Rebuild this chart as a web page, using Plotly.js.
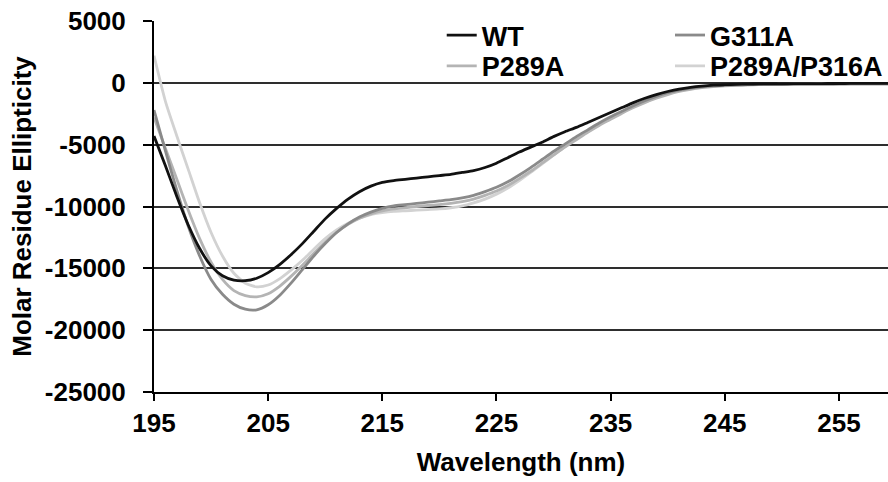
<!DOCTYPE html>
<html>
<head>
<meta charset="utf-8">
<script src="https://cdn.plot.ly/plotly-3.0.1.min.js"></script>
<style>html,body{margin:0;padding:0;background:#fff;}#chart{width:888px;height:482px;}</style>
</head>
<body>
<div id="chart"></div>
<script>
const wavelength = [195,196,197,198,199,200,201,202,203,204,205,206,207,208,209,210,211,212,213,214,215,216,217,218,219,220,221,222,223,224,225,226,227,228,229,230,231,232,233,234,235,236,237,238,239,240,241,242,243,244,245,246,247,248,249,250,251,252,253,254,255,256,257,258,259,260];

const wt = [-4300,-6700,-9200,-11500,-13400,-14800,-15600,-15950,-16000,-15800,-15350,-14700,-13900,-13000,-12000,-11000,-10150,-9400,-8800,-8350,-8050,-7900,-7800,-7700,-7600,-7500,-7400,-7250,-7100,-6850,-6500,-6050,-5600,-5200,-4800,-4350,-3950,-3600,-3200,-2800,-2400,-2000,-1600,-1250,-950,-700,-500,-360,-260,-190,-150,-120,-100,-90,-80,-75,-70,-65,-60,-55,-55,-50,-50,-45,-45,-40];

const g311a = [-2200,-5500,-8700,-11600,-14000,-15900,-17100,-17900,-18300,-18350,-17950,-17200,-16200,-15100,-14000,-13000,-12100,-11400,-10850,-10450,-10150,-9950,-9850,-9750,-9650,-9550,-9450,-9300,-9100,-8800,-8450,-8000,-7450,-6850,-6200,-5550,-4950,-4350,-3800,-3250,-2750,-2300,-1850,-1450,-1100,-800,-580,-420,-320,-250,-200,-170,-150,-135,-125,-115,-110,-105,-100,-95,-90,-85,-80,-80,-75,-75];

const p289a = [-2800,-5300,-7800,-10300,-12600,-14500,-15900,-16800,-17200,-17300,-17050,-16450,-15650,-14750,-13800,-12900,-12100,-11450,-10950,-10600,-10350,-10200,-10100,-10000,-9920,-9840,-9740,-9600,-9400,-9100,-8750,-8300,-7750,-7150,-6500,-5850,-5200,-4600,-4000,-3450,-2950,-2450,-2000,-1600,-1250,-950,-700,-520,-390,-300,-240,-200,-170,-150,-135,-125,-115,-110,-105,-100,-95,-90,-90,-85,-85,-80];

const p289aP316a = [2200,-1500,-4300,-7000,-9700,-12100,-14000,-15400,-16200,-16500,-16350,-15850,-15150,-14350,-13450,-12600,-11900,-11350,-10950,-10650,-10500,-10400,-10350,-10300,-10250,-10200,-10100,-9950,-9700,-9400,-9000,-8500,-7900,-7250,-6550,-5850,-5150,-4500,-3900,-3350,-2850,-2400,-1950,-1550,-1200,-900,-660,-490,-370,-290,-230,-190,-160,-140,-125,-115,-110,-100,-95,-90,-90,-85,-80,-80,-75,-75];

const seriesNames = ["WT", "G311A", "P289A", "P289A/P316A"];
const xTickVals = [195,205,215,225,235,245,255];
const yTickVals = [5000,0,-5000,-10000,-15000,-20000,-25000];
const yTickText = ["5000","0","-5000","-10000","-15000","-20000","-25000"];

const FONT = "Liberation Sans, Arial, Helvetica, sans-serif";
const FS = 26;
const bold = (s) => ({family: FONT, size: s, color: "#000", weight: "bold"});

function tr(y, name, color, legend) {
  return {x: wavelength, y: y, name: name, type: "scatter", mode: "lines",
    line: {color: color, width: 2.8, shape: "spline", smoothing: 0.6},
    legend: legend, hoverinfo: "skip"};
}

const data = [
  tr(p289aP316a, seriesNames[3], "#d2d2d2", "legend4"),
  tr(p289a, seriesNames[2], "#b4b4b4", "legend3"),
  tr(g311a, seriesNames[1], "#8a8a8a", "legend2"),
  tr(wt, seriesNames[0], "#111111", "legend")
];

function leg(x, y) {
  return {x: x, y: y, xanchor: "left", yanchor: "top", orientation: "v",
    bgcolor: "rgba(0,0,0,0)", font: bold(27), itemwidth: 30};
}

const layout = {
  width: 888, height: 482,
  margin: {l: 154, r: 0, t: 21, b: 90},
  paper_bgcolor: "#fff", plot_bgcolor: "#fff",
  showlegend: true,
  font: bold(FS),
  xaxis: {
    range: [195, 259.3], tickvals: xTickVals, ticks: "outside", ticklen: 7, tickwidth: 2, tickcolor: "#000",
    showline: true, linecolor: "#000", linewidth: 2, showgrid: false, zeroline: false,
    tickfont: bold(FS), ticklabelstandoff: 0,
    title: {text: "Wavelength (nm)", font: bold(FS), standoff: 16},
    automargin: false, fixedrange: true
  },
  yaxis: {
    range: [-25000, 5000], tickvals: yTickVals, ticktext: yTickText, ticks: "outside", ticklen: 9, tickwidth: 2, tickcolor: "#000",
    showline: true, linecolor: "#000", linewidth: 2, showgrid: true, gridcolor: "#2e2e2e", gridwidth: 2, zeroline: false,
    tickfont: bold(FS), ticklabelstandoff: 12,
    title: {text: "Molar Residue Ellipticity", font: bold(FS), standoff: 6},
    automargin: false, fixedrange: true
  },
  legend: leg(0.392, 1.027),
  legend2: leg(0.703, 1.027),
  legend3: leg(0.392, 0.944),
  legend4: leg(0.703, 0.944)
};

Plotly.newPlot("chart", data, layout, {staticPlot: true, displayModeBar: false});
</script>
</body>
</html>
